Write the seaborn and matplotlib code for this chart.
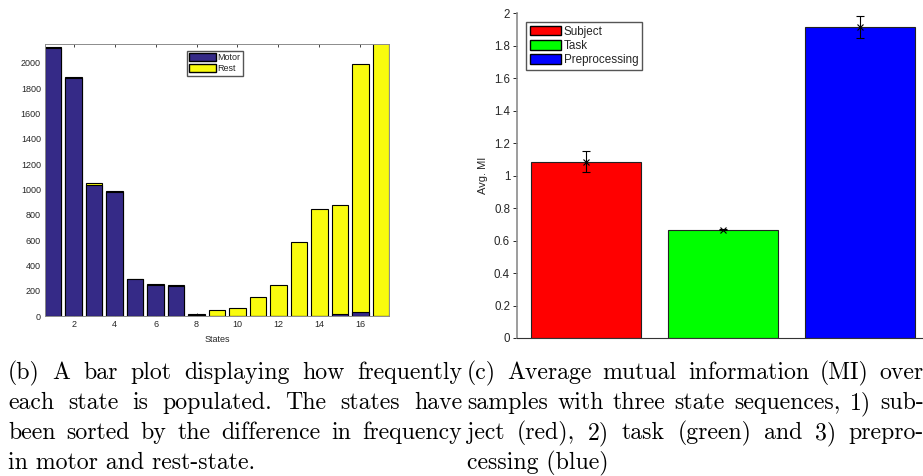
import numpy as np
import pandas as pd
import seaborn as sns
import matplotlib.pyplot as plt
from matplotlib.patches import Patch

# state frequencies (sorted by motor - rest difference)
states = list(range(1, 18))
motor = [2120, 1880, 1035, 983, 290, 248, 236, 5, 3, 3, 2, 2, 2, 2, 14, 32, 0]
rest = [4, 10, 18, 5, 5, 7, 6, 7, 42, 60, 146, 240, 583, 841, 861, 1958, 2400]

# average mutual information
groups = ['Subject', 'Task', 'Preprocessing']
mi_mean = [1.085, 0.668, 1.915]
mi_err = [0.065, 0.004, 0.068]

caption_b = ['(b) A bar plot displaying how frequently',
             'each state is populated. The states have',
             'been sorted by the difference in frequency',
             'in motor and rest-state.']
caption_c = ['(c) Average mutual information (MI) over',
             'samples with three state sequences, 1) sub-',
             'ject (red), 2) task (green) and 3) prepro-',
             'cessing (blue)']

W, H = 923, 476
sns.set_theme(style='white')
plt.rcParams['font.family'] = ['Liberation Sans', 'DejaVu Sans']
txt = '#262626'

fig = plt.figure(figsize=(W / 100, H / 100), dpi=100)


def px_axes(l, t, r, b):
    return fig.add_axes([l / W, 1 - b / H, (r - l) / W, (b - t) / H])


# ---- left panel: stacked state counts ----
ax1 = px_axes(45, 44, 389, 316)
df = pd.DataFrame({'state': states, 'motor': motor, 'rest': rest})
df['total'] = df['motor'] + df['rest']
sns.barplot(data=df, x='state', y='total', native_scale=True, color='#F9FB0E',
            saturation=1, edgecolor='black', linewidth=0.8, ax=ax1)
sns.barplot(data=df, x='state', y='motor', native_scale=True, color='#352A87',
            saturation=1, edgecolor='black', linewidth=0.8, ax=ax1)
ax1.set_xlim(0.6, 17.4)
ax1.set_ylim(0, 2150)
ax1.set_xticks(range(2, 17, 2))
ax1.set_yticks(range(0, 2001, 200))
ax1.set_xlabel('States', fontsize=6.5, color=txt, labelpad=4)
ax1.set_ylabel('')
ax1.tick_params(labelsize=6.5, colors=txt, direction='in', length=2.5,
                top=True, left=True, bottom=True, width=0.6, pad=3)
for s in ax1.spines.values():
    s.set_color('#8c8c8c')
    s.set_linewidth(0.7)
ax1.legend(handles=[Patch(facecolor='#352A87', edgecolor='black', label='Motor'),
                    Patch(facecolor='#F9FB0E', edgecolor='black', label='Rest')],
           loc='upper left', bbox_to_anchor=(0.413, 0.974), borderaxespad=0,
           fontsize=6.5, fancybox=False, framealpha=1, edgecolor='#555555',
           handlelength=2.9, handleheight=1.0, handletextpad=0.2,
           labelspacing=0.2, borderpad=0.25)

# ---- right panel: average MI ----
ax2 = px_axes(517, 13.3, 929, 338)
dmi = pd.DataFrame({'group': groups, 'mi': mi_mean})
sns.barplot(data=dmi, x='group', y='mi', hue='group',
            palette=['#FF0000', '#00FF00', '#0000FF'], saturation=1,
            edgecolor='#222222', linewidth=0.8, width=0.8, legend=False, ax=ax2)
ax2.errorbar(np.arange(len(groups)), mi_mean, yerr=mi_err, fmt='x', color='black',
             ms=5, mew=0.8, elinewidth=0.8, capsize=3, capthick=0.8)
ax2.set_xlim(-0.5, 2.5)
ax2.set_ylim(0, 2)
ax2.set_yticks(np.arange(0, 2.01, 0.2))
ax2.set_yticklabels(['0', '0.2', '0.4', '0.6', '0.8', '1', '1.2', '1.4',
                     '1.6', '1.8', '2'])
ax2.set_xticks([])
ax2.set_xlabel('')
ax2.set_ylabel('Avg. MI', fontsize=8, color=txt, labelpad=4)
ax2.tick_params(axis='y', labelsize=8.3, colors=txt, direction='out', length=3,
                width=0.7, left=True, pad=2)
ax2.spines['top'].set_visible(False)
ax2.spines['right'].set_visible(False)
ax2.spines['left'].set_color('#8c8c8c')
ax2.spines['left'].set_linewidth(1.2)
ax2.spines['bottom'].set_color('#333333')
ax2.spines['bottom'].set_linewidth(0.8)
ax2.legend(handles=[Patch(facecolor=p.get_facecolor(), edgecolor='black', label=g)
                    for p, g in zip(ax2.patches, groups)],
           loc='upper left', bbox_to_anchor=(0.022, 0.973), borderaxespad=0,
           fontsize=8.4, fancybox=False, framealpha=1, edgecolor='#555555',
           handlelength=2.7, handleheight=0.9, handletextpad=0.25,
           labelspacing=0.2, borderpad=0.3)

# ---- captions (justified) ----
serif = dict(family=['cmr10', 'DejaVu Serif'], color='black',
             va='baseline', ha='left')
rend = fig.canvas.get_renderer()


def line_width(line, size):
    t = fig.text(0, 0, line, fontsize=size, **serif)
    w = t.get_window_extent(rend).width
    t.remove()
    return w


def fit_size(cols):
    # largest size at which every full line still fits its column
    best = 100
    for lines, x0, x1 in cols:
        for line in lines[:-1]:
            best = min(best, 10 * (x1 - x0) / line_width(line, 10))
    return best * 0.985


def put_caption(lines, x0, x1, ys, size):
    for i, (line, y) in enumerate(zip(lines, ys)):
        if i == len(lines) - 1:
            fig.text(x0 / W, 1 - y / H, line, fontsize=size, **serif)
            continue
        words = line.split(' ')
        ts = [fig.text(0, 0, w, fontsize=size, **serif) for w in words]
        widths = [t.get_window_extent(rend).width for t in ts]
        gap = (x1 - x0 - sum(widths)) / (len(words) - 1)
        x = x0
        for t, w in zip(ts, widths):
            t.set_position((x / W, 1 - y / H))
            x += w + gap


cols = [(caption_b, 8, 462), (caption_c, 467, 924)]
size = fit_size(cols)
for lines, x0, x1 in cols:
    put_caption(lines, x0, x1, [379, 409, 439, 469], size)

fig.savefig('out.png', dpi=100)
